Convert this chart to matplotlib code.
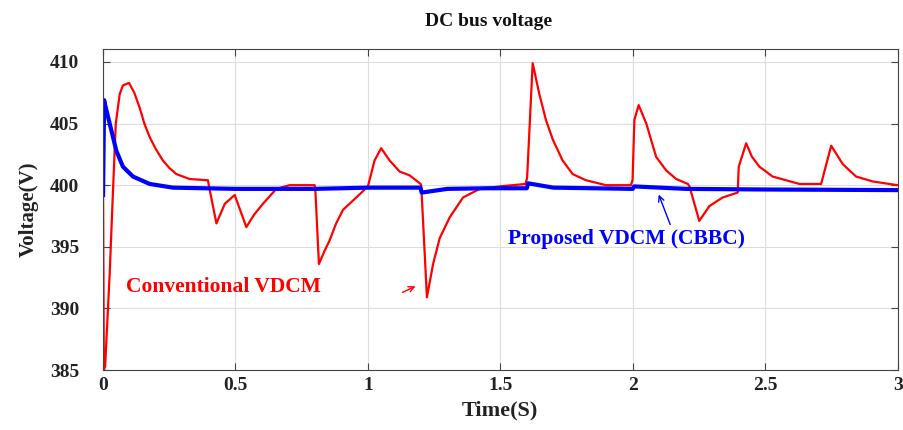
import numpy as np
import matplotlib.pyplot as plt

# conventional VDCM (red), key points
t_conv = [0.0, 0.003, 0.008, 0.0126, 0.025, 0.035, 0.048, 0.063, 0.075, 0.098, 0.118, 0.138, 0.156,
          0.176, 0.2, 0.226, 0.25, 0.277, 0.327, 0.396,
          0.400, 0.428, 0.46, 0.497, 0.541, 0.57, 0.604, 0.654, 0.704, 0.799,
          0.802, 0.815, 0.835, 0.855, 0.88, 0.906, 0.956, 1.0, 1.025, 1.05, 1.082, 1.12, 1.157, 1.199,
          1.2015, 1.2227, 1.246, 1.271, 1.309, 1.359, 1.422, 1.497, 1.595,
          1.601, 1.622, 1.647, 1.672, 1.698, 1.735, 1.773, 1.823, 1.899, 1.993,
          1.999, 2.006, 2.022, 2.051, 2.088, 2.126, 2.164, 2.208,
          2.214, 2.251, 2.289, 2.339, 2.396,
          2.400, 2.428, 2.45, 2.478, 2.528, 2.629, 2.711,
          2.749, 2.793, 2.843, 2.906, 3.0]
v_conv = [399.5, 385.0, 385.3, 387.4, 392.8, 398.2, 405.0, 407.4, 408.1, 408.3, 407.5, 406.3, 405.0,
          403.9, 402.9, 402.0, 401.4, 400.9, 400.5, 400.4,
          399.9, 396.9, 398.5, 399.2, 396.6, 397.6, 398.5, 399.7, 400.0, 400.0,
          399.4, 393.6, 394.6, 395.5, 396.9, 398.0, 399.0, 399.9, 402.0, 403.0, 402.0, 401.1, 400.8, 400.1,
          399.9, 390.9, 393.6, 395.7, 397.4, 399.0, 399.7, 399.9, 400.1,
          400.6, 409.9, 407.4, 405.3, 403.7, 402.0, 400.9, 400.4, 400.0, 400.0,
          400.4, 405.3, 406.5, 405.0, 402.3, 401.2, 400.5, 400.1,
          399.9, 397.1, 398.3, 399.0, 399.4,
          401.5, 403.4, 402.3, 401.5, 400.7, 400.1, 400.1,
          403.2, 401.7, 400.7, 400.3, 400.0]

# proposed VDCM (CBBC), blue
t_prop = [0.0, 0.004, 0.008, 0.025, 0.05, 0.075, 0.113, 0.176, 0.264, 0.5, 0.8, 1.0, 1.198,
          1.203, 1.3, 1.45, 1.6, 1.605, 1.7, 2.0, 2.005, 2.2, 2.5, 3.0]
v_prop = [399.2, 406.9, 406.5, 405.0, 402.8, 401.5, 400.7, 400.1, 399.8, 399.7, 399.7, 399.8, 399.8,
          399.4, 399.7, 399.75, 399.75, 400.15, 399.8, 399.7, 399.9, 399.7, 399.65, 399.6]

xticks = [0, 0.5, 1, 1.5, 2, 2.5, 3]
xticklabels = ['0', '0.5', '1', '1.5', '2', '2.5', '3']
yticks = [385, 390, 395, 400, 405, 410]

plt.rcParams['font.family'] = ['Liberation Serif', 'DejaVu Serif']
plt.rcParams['font.weight'] = 'bold'

fig = plt.figure(figsize=(9.04, 4.30), dpi=100)
ax = fig.add_axes([0.114, 0.1395, 0.879, 0.7465])

ax.plot(t_conv, v_conv, color='#ff0000', lw=1.6)
ax.plot(t_prop, v_prop, color='#0000ff', lw=3)

ax.set_xlim(0, 3)
ax.set_ylim(385, 411.05)
ax.set_xticks(xticks)
ax.set_xticklabels(xticklabels)
ax.set_yticks(yticks)
ax.tick_params(direction='in', top=True, right=True, labelsize=14, length=5,
               color='#444444')
ax.tick_params(axis='y', pad=17)
ax.tick_params(axis='x', pad=5)
for lbl in ax.get_xticklabels() + ax.get_yticklabels():
    lbl.set_fontweight('bold')
    lbl.set_color('#222222')
ax.grid(True, color='#dddddd', lw=0.8)
for s in ax.spines.values():
    s.set_color('#444444')

ax.set_xlabel('Time(S)', fontsize=16, fontweight='bold', color='#222222', labelpad=5)
ax.set_ylabel('Voltage(V)', fontsize=15, fontweight='bold', color='#222222', labelpad=8)
fig.text(0.54, 0.95, 'DC bus voltage', ha='center', va='center', fontsize=14,
         fontweight='bold', color='#111111')

ax.text(0.088, 391.7, 'Conventional VDCM', color='#ff0000', fontsize=15.5,
        fontweight='bold', va='center')
ax.annotate('', xy=(1.189, 391.9), xytext=(1.121, 391.2),
            arrowprops=dict(arrowstyle='->', color='#ff0000', lw=1))
ax.text(1.528, 395.6, 'Proposed VDCM (CBBC)', color='#0000ff', fontsize=15.5,
        fontweight='bold', va='center')
ax.annotate('', xy=(2.094, 399.45), xytext=(2.145, 396.6),
            arrowprops=dict(arrowstyle='->', color='#0000ff', lw=1))

fig.savefig('out.png', dpi=100)
